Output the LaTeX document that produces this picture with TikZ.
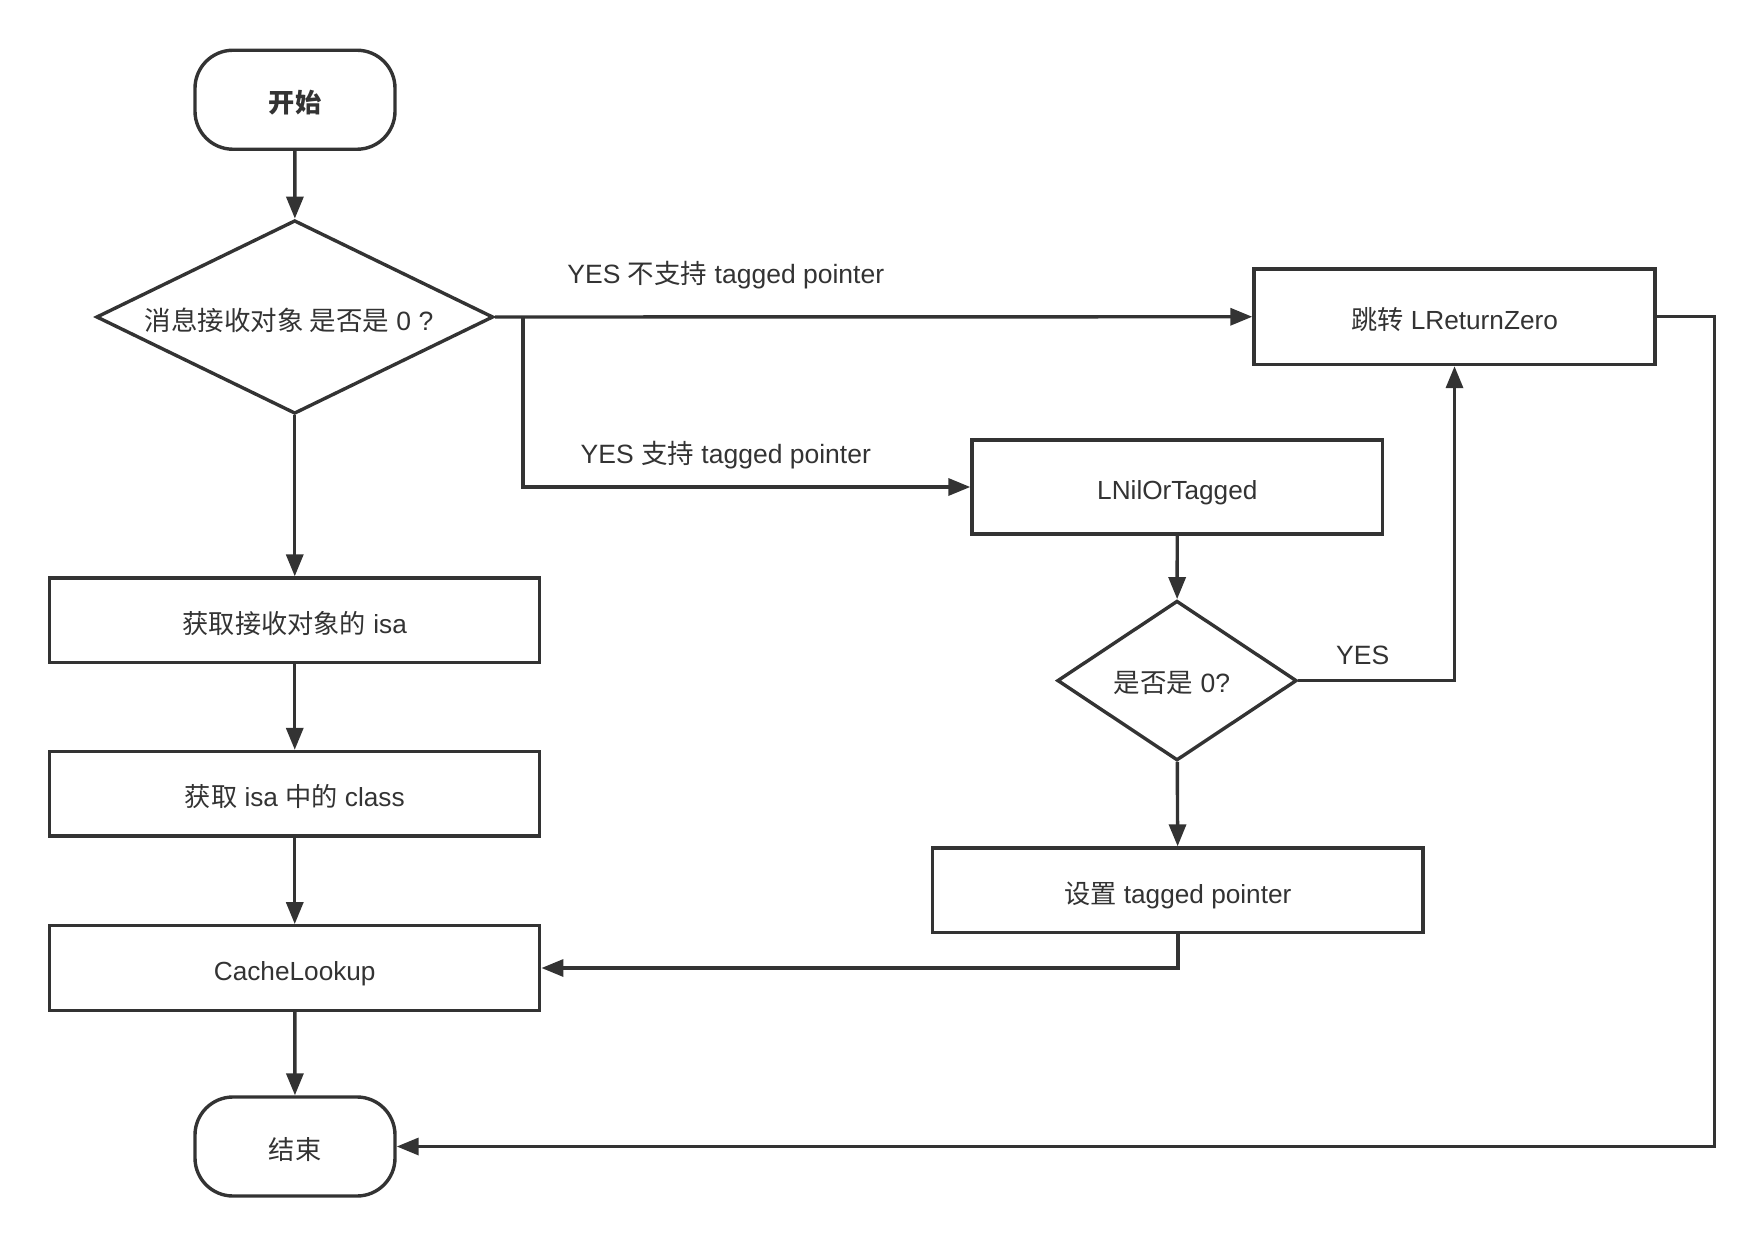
\documentclass[tikz,border=0pt]{standalone}
\usepackage{fontspec}
\setmainfont{Liberation Sans}
\newfontfamily\cjk{Noto Sans CJK SC}
\usetikzlibrary{shapes.geometric,arrows.meta}
\definecolor{ink}{HTML}{333333}
\begin{document}
\begin{tikzpicture}[x=1pt,y=-1pt,
  base/.style={draw=ink, line width=3.4pt, text=ink, font=\fontsize{26.2}{30}\selectfont, inner sep=0pt, text height=25.8pt, text depth=0pt},
  boxnode/.style={base, rectangle, minimum width=490pt, minimum height=84.5pt},
  termnode/.style={base, rectangle, rounded corners=38pt, minimum width=200pt, minimum height=99pt},
  decnode/.style={base, diamond},
  lbl/.style={text=ink, font=\fontsize{26.5}{30}\selectfont, inner sep=0pt},
  arr/.style={draw=ink, line width=3.4pt, -{Triangle[length=22pt,width=17pt]}}
]
\useasboundingbox[fill=white] (0,0) rectangle (1764,1246);

\node[termnode, font=\fontsize{26.2}{30}\selectfont\bfseries] (start) at (295,99.75) {\cjk\bfseries 开始};
\node[decnode, minimum width=397pt, minimum height=193.5pt] (d1) at (294.75,317) {};
\node[lbl] (d1t) at (289,320) {{\cjk 消息接收对象 是否是} 0 ?};
\node[boxnode] (isa) at (294.75,620.3) {{\cjk 获取接收对象的} isa};
\node[boxnode] (cls) at (294.75,793.75) {{\cjk 获取} isa {\cjk 中的} class};
\node[boxnode] (cache) at (294.75,968) {CacheLookup};
\node[termnode] (end) at (295,1146.5) {\cjk 结束};

\node[base, rectangle, minimum width=401pt, minimum height=95.5pt] (ret) at (1454.5,316.75) {{\cjk 跳转} LReturnZero};
\node[base, rectangle, minimum width=410.6pt, minimum height=94pt] (nil) at (1177.3,487) {LNilOrTagged};
\node[decnode, minimum width=239.5pt, minimum height=159.75pt] (d2) at (1177,680.6) {};
\node[lbl] (d2t) at (1172,683) {{\cjk 是否是} 0?};
\node[base, rectangle, minimum width=490.4pt, minimum height=84.6pt] (set) at (1177.8,890.3) {{\cjk 设置} tagged pointer};

\coordinate (br) at (523,317);
\coordinate (rr) at (1714.5,316.75);

\draw[arr] (start) -- (d1);
\draw[arr] (d1) -- (isa);
\draw[arr] (isa) -- (cls);
\draw[arr] (cls) -- (cache);
\draw[arr] (cache) -- (end);
\draw[arr] (d1.east) -- (ret.west);
\draw[arr] (br) |- (nil.west);
\draw[arr] (nil) -- (d2);
\draw[arr] (d2) -- (set);
\draw[arr] (d2.east) -| (ret.south);
\draw[arr] (set.south) |- (cache.east);
\draw[arr] (ret.east) -- (rr) |- (end.east);

\node[lbl] (l1) at (725.8,275) {YES {\cjk 不支持} tagged pointer};
\node[lbl] (l2) at (725.8,455) {YES {\cjk 支持} tagged pointer};
\node[lbl] (l3) at (1362.7,655) {YES};
\end{tikzpicture}
\end{document}
